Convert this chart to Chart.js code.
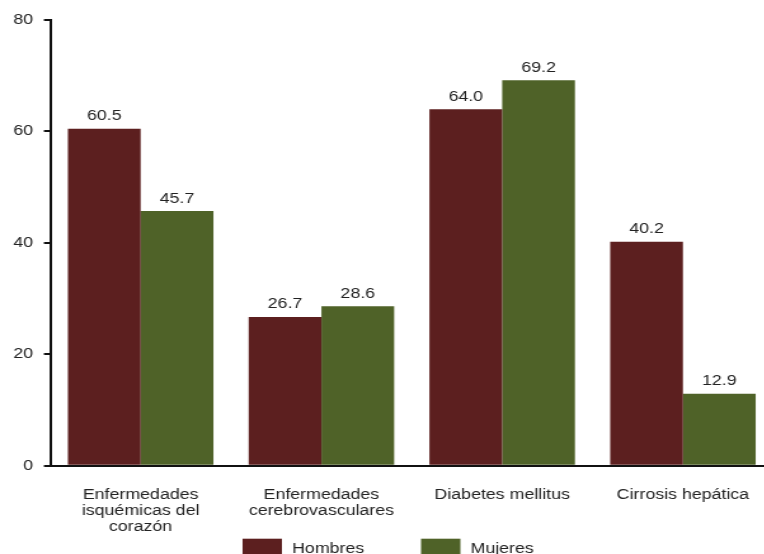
<!DOCTYPE html>
<html lang="es">
<head>
    <meta charset="UTF-8">
    <title>Tasas de mortalidad por sexo</title>
    <script src="https://cdn.jsdelivr.net/npm/chart.js"></script>
    <style>
        html, body { margin: 0; padding: 0; background: #fff; overflow: hidden; }
        #wrap { width: 764px; height: 554px; overflow: hidden; }
        /* the original chart is stretched horizontally, text included */
        #chart { transform: scaleX(1.27); transform-origin: 0 0; }
    </style>
</head>
<body>
    <div id="wrap">
        <canvas id="chart" width="611" height="582"></canvas>
    </div>

    <script>
        // Data
        const categories = [
            ['Enfermedades', 'isquémicas del', 'corazón'],
            ['Enfermedades', 'cerebrovasculares'],
            ['Diabetes mellitus'],
            ['Cirrosis hepática']
        ];
        const hombres = [60.5, 26.7, 64.0, 40.2];
        const mujeres = [45.7, 28.6, 69.2, 12.9];
        const yTicks = [0, 20, 40, 60, 80];

        const FONT = 'Liberation Sans, Arial, sans-serif';
        const TEXT = '#222';

        // value labels above each bar
        const barLabels = {
            id: 'barLabels',
            afterDatasetsDraw(chart) {
                const ctx = chart.ctx;
                ctx.save();
                ctx.font = '14px ' + FONT;
                ctx.fillStyle = TEXT;
                ctx.textAlign = 'center';
                ctx.textBaseline = 'alphabetic';
                chart.data.datasets.forEach((ds, i) => {
                    chart.getDatasetMeta(i).data.forEach((bar, j) => {
                        ctx.fillText(ds.data[j].toFixed(1), bar.x, bar.y - 8.5);
                    });
                });
                ctx.restore();
            }
        };

        // legend at the bottom, wide spacing between the two entries
        const bottomLegend = {
            id: 'bottomLegend',
            afterDraw(chart) {
                const ctx = chart.ctx;
                const starts = [191, 331.5];
                const y = chart.chartArea.bottom + 73;
                ctx.save();
                ctx.font = '14px ' + FONT;
                ctx.textBaseline = 'middle';
                chart.data.datasets.forEach((ds, i) => {
                    ctx.fillStyle = ds.backgroundColor;
                    ctx.fillRect(starts[i], y, 31, 17);
                    ctx.fillStyle = TEXT;
                    ctx.fillText(ds.label, starts[i] + 39, y + 10);
                });
                ctx.restore();
            }
        };

        new Chart(document.getElementById('chart'), {
            type: 'bar',
            data: {
                labels: categories,
                datasets: [
                    { label: 'Hombres', data: hombres, backgroundColor: 'rgb(92, 31, 31)' },
                    { label: 'Mujeres', data: mujeres, backgroundColor: 'rgb(79, 98, 40)' }
                ]
            },
            options: {
                responsive: false,
                animation: false,
                layout: { padding: { top: 20, left: 2, right: 1, bottom: 26 } },
                datasets: { bar: { categoryPercentage: 0.805, barPercentage: 1 } },
                plugins: {
                    tooltip: { enabled: false },
                    legend: { display: false }
                },
                scales: {
                    x: {
                        grid: { display: false, drawTicks: false },
                        border: { display: true, color: '#111', width: 2 },
                        ticks: {
                            color: TEXT,
                            padding: 21,
                            maxRotation: 0,
                            autoSkip: false,
                            font: { family: FONT, size: 14, lineHeight: 1.15 }
                        }
                    },
                    y: {
                        min: 0,
                        max: 80,
                        afterBuildTicks: axis => { axis.ticks = yTicks.map(v => ({ value: v })); },
                        grid: { drawOnChartArea: false, drawTicks: true, tickLength: 5, color: '#111', lineWidth: 2 },
                        border: { display: true, color: '#111', width: 2 },
                        ticks: {
                            color: TEXT,
                            padding: 8.5,
                            font: { family: FONT, size: 14 }
                        }
                    }
                }
            },
            plugins: [barLabels, bottomLegend]
        });
    </script>
</body>
</html>
